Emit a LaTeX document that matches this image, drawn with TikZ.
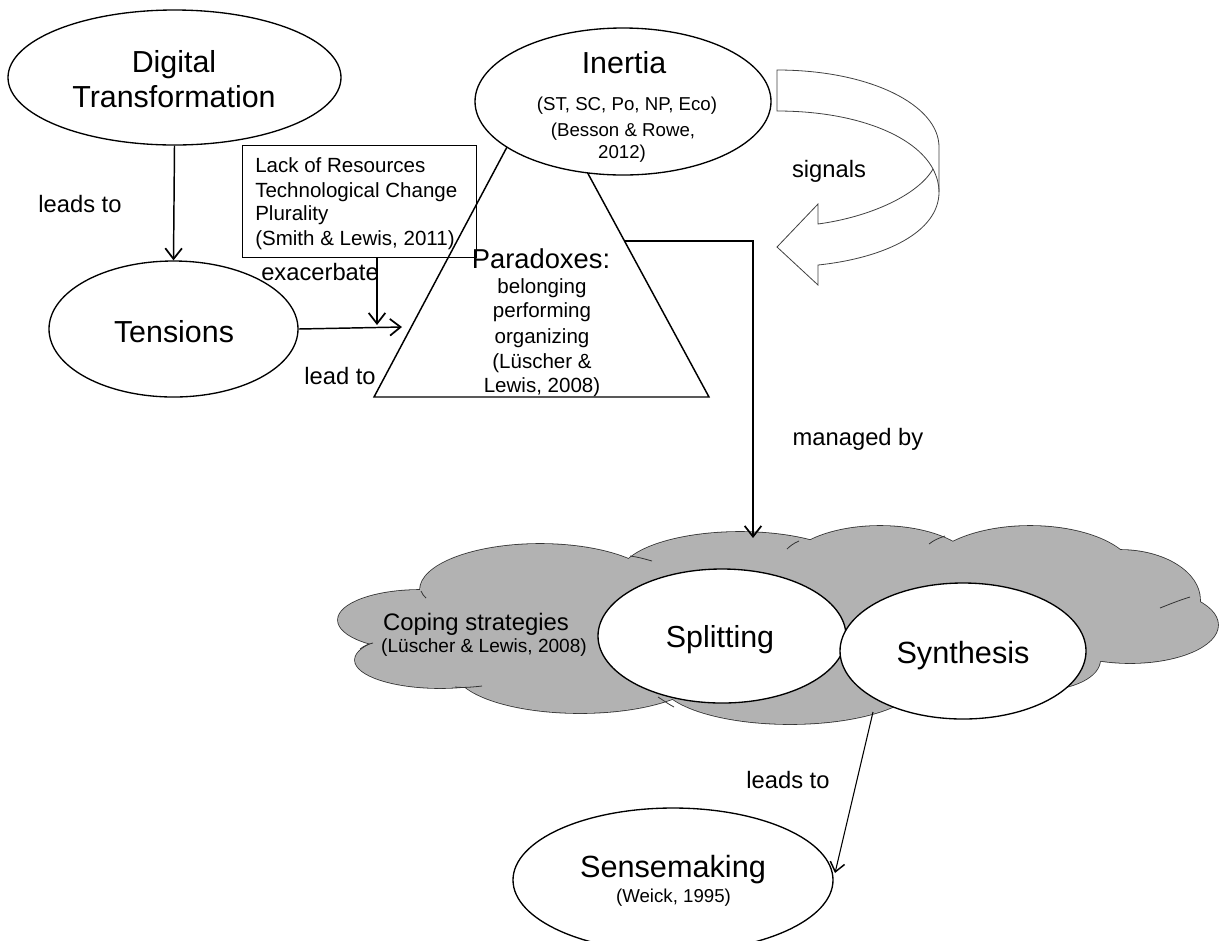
\documentclass[tikz,border=0pt]{standalone}
\usepackage{fontspec}
\setmainfont{Liberation Sans}
\usetikzlibrary{arrows.meta,calc,shapes.geometric}
\tikzset{
  ell/.style={draw, ellipse, inner sep=0pt, line width=1pt, fill=white},
  esize/.style 2 args={minimum width=#1*0.75pt, minimum height=#2*0.75pt},
  txt/.style={anchor=base, inner sep=0pt},
  bigtxt/.style={txt, font=\fontsize{22.8}{27}\selectfont},
  lbltxt/.style={txt, font=\fontsize{17.8}{21}\selectfont},
  midtxt/.style={txt, font=\fontsize{15.4}{18}\selectfont},
  smltxt/.style={txt, font=\fontsize{14}{17}\selectfont},
  conn/.style={line width=1.1pt, -{Straight Barb[length=8pt,width=12.5pt,line width=1.3pt]}},
  thinconn/.style={line width=0.8pt, -{Straight Barb[length=7pt,width=11pt,line width=1.1pt]}},
  cloudfill/.style={fill=black!30},
  cloudline/.style={draw=black!80, line width=1.2pt},
  cusp/.style={draw=black!80, line width=0.6pt},
  signalline/.style={draw=black!75, line width=0.6pt}
}
\begin{document}
\begin{tikzpicture}[x=0.75pt,y=-0.75pt]
\useasboundingbox (0,0) rectangle (1219,940);
\clip (0,0) rectangle (1219,940);

% ---------- triangle (Paradoxes) ----------
\coordinate (tA) at (540,85);
\coordinate (tL) at (374,397);
\coordinate (tR) at (709,397);
\draw[line width=1.1pt] (tA) -- (tL) -- (tR) -- cycle;

% ---------- ellipses top ----------
\node[ell, esize={333}{135}] (dt) at (174.5,77.5) {};
\node[ell, esize={249}{136}] (ten) at (173.5,329) {};
\node[ell, esize={296}{147}] (inr) at (623,101.5) {};

% ---------- box ----------
\node[draw, line width=0.9pt, inner sep=0pt, esize={234}{112}] (box) at (359.7,201.2) {};

% ---------- texts top ----------
\node[bigtxt] (t1) at (174,72) {Digital};
\node[bigtxt] (t2) at (174,107) {Transformation};
\node[bigtxt] (t3) at (174,342) {Tensions};
\node[lbltxt] (l1) at (80,212) {leads to};
\node[bigtxt] (i1) at (624,73) {Inertia};
\node[smltxt] (i2) at (627,110) {(ST, SC, Po, NP, Eco)};
\node[smltxt] (i3) at (623,136) {(Besson \& Rowe,};
\node[smltxt] (i4) at (622,158) {2012)};
\node[midtxt, anchor=base west] (b1) at (255,172) {Lack of Resources};
\node[midtxt, anchor=base west] (b2) at (255,197) {Technological Change};
\node[midtxt, anchor=base west] (b3) at (255,220) {Plurality};
\node[midtxt, anchor=base west] (b4) at (255,245) {(Smith \& Lewis, 2011)};
\node[lbltxt] (l2) at (320,280) {exacerbate};
\node[lbltxt] (l3) at (340,384) {lead to};
\node[txt, font=\fontsize{20.5}{24}\selectfont] (p1) at (541,268) {Paradoxes:};
\node[midtxt] (p2) at (542,293.5) {belonging};
\node[midtxt] (p3) at (542,317.5) {performing};
\node[midtxt] (p4) at (542,343) {organizing};
\node[midtxt] (p5) at (542,368) {(Lüscher \&};
\node[midtxt] (p6) at (542,392) {Lewis, 2008)};
\node[lbltxt] (l4) at (829,177) {signals};
\node[lbltxt] (l5) at (858,445) {managed by};
\node[lbltxt] (l6) at (788,788) {leads to};

% ---------- arrows top ----------
\draw[conn] (dt.south) -- (ten.north);
\coordinate (pin) at (402,327);
\draw[conn] (ten.east) -- (pin);
\coordinate (exin) at (377,325);
\draw[conn] (box.south -| exin) -- (exin);

% ---------- signals curved arrow ----------
\draw[signalline, fill=white] (777,70) .. controls (870,70) and (939,105) .. (939,147)
  -- (939,192) .. controls (939,232) and (885,258) .. (818,265)
  -- (818,285) -- (777,247) -- (818,204) -- (818,224)
  .. controls (870,217) and (918,195) .. (933,169)
  .. controls (915,135) and (855,111) .. (777,111) -- cycle;
\draw[signalline] (933,169) .. controls (937,177) and (939,184) .. (939,192);

% ---------- cloud ----------
\def\lobes{420/620/82/30, 440/660/85/28, 540/590/120/46, 580/670/125/43,
  740/575/120/43, 880/570/95/44, 1030/575/105/49, 1120/600/80/50,
  1130/625/88/38, 790/680/130/44, 1040/660/60/30, 800/620/250/60,
  485/640/90/32}
\foreach \cx/\cy/\rx/\ry in \lobes {
  \draw[cloudline] (\cx,\cy) ellipse [x radius=\rx, y radius=\ry];
}
\foreach \cx/\cy/\rx/\ry in \lobes {
  \fill[cloudfill] (\cx,\cy) ellipse [x radius=\rx, y radius=\ry];
}
% inner cusp arcs of the cloud
\draw[cusp] (421,591) .. controls (422,594) and (424,596) .. (426,598);
\draw[cusp] (630,556) .. controls (638,557) and (645,559) .. (652,561);
\draw[cusp] (455,687) .. controls (464,688) and (473,687) .. (482,686);
\draw[cusp] (658,697) .. controls (663,700) and (668,704) .. (674,707);
\draw[cusp] (787,549) .. controls (790,546) and (794,543) .. (799,541);
\draw[cusp] (929,544) .. controls (934,540) and (939,538) .. (945,536);
\draw[cusp] (1160,608) .. controls (1170,604) and (1180,600) .. (1190,597);
\draw[cusp] (360,649) .. controls (364,646) and (368,644) .. (373,643);

\node[txt, font=\fontsize{17.9}{21}\selectfont] (c1) at (476,630) {Coping strategies};
\node[smltxt, font=\fontsize{14.3}{17}\selectfont] (c2) at (484,652) {(Lüscher \& Lewis, 2008)};

\node[ell, esize={248}{134}] (spl) at (722,636) {};
\node[ell, esize={246}{136}] (syn) at (963,651) {};
\node[bigtxt] (s1) at (720,647) {Splitting};
\node[bigtxt, font=\fontsize{23}{27}\selectfont] (s2) at (963,663) {Synthesis};

% ---------- managed by elbow ----------
\coordinate (pR) at ($(tA)!0.5!(tR)$);
\coordinate (cloudtop) at (753,538);
\draw[conn] (pR) -| (cloudtop);

% ---------- sensemaking ----------
\node[ell, esize={320}{144}] (sen) at (673,880) {};
\node[txt, font=\fontsize{23}{27}\selectfont] (m1) at (673,877) {Sensemaking};
\node[smltxt] (m2) at (673.5,902) {(Weick, 1995)};
\coordinate (synout) at (873,712);
\coordinate (senin) at (835,873);
\draw[thinconn] (synout) -- (senin);

\end{tikzpicture}
\end{document}
